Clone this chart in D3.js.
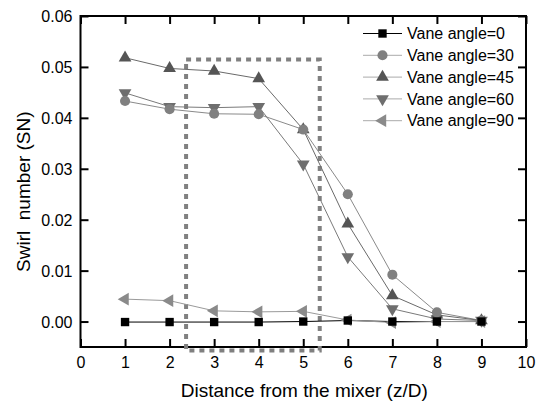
<!DOCTYPE html>
<html>
<head>
<meta charset="utf-8">
<script src="https://cdn.jsdelivr.net/npm/d3@7"></script>
<style>
  body { margin: 0; background: #fff; }
  text { font-family: "Liberation Sans", Arial, sans-serif; }
</style>
</head>
<body>
<div id="chart"></div>
<script>
const xs = [1, 2, 3, 4, 5, 6, 7, 8, 9];
const seriesNames = ['Vane angle=0', 'Vane angle=30', 'Vane angle=45', 'Vane angle=60', 'Vane angle=90'];
const angle0  = [-0.0001, -0.0001, -0.0001, -0.0001, 0.0, 0.0002, 0.0, 0.0, 0.0];
const angle30 = [0.0433, 0.0417, 0.0408, 0.0407, 0.0377, 0.0250, 0.0092, 0.0018, 0.0002];
const angle45 = [0.0518, 0.0497, 0.0492, 0.0477, 0.0377, 0.0192, 0.0051, 0.0013, 0.0002];
const angle60 = [0.0449, 0.0422, 0.0420, 0.0422, 0.0309, 0.0127, 0.0025, 0.0005, 0.0002];
const angle90 = [0.0044, 0.0041, 0.0021, 0.0019, 0.0020, 0.0003, -0.0002, 0.0, 0.0];
const xTicks = [0, 1, 2, 3, 4, 5, 6, 7, 8, 9, 10];
const yTicks = [0.00, 0.01, 0.02, 0.03, 0.04, 0.05, 0.06];
const box = { x0: 2.37, x1: 5.37, y0: -0.0057, y1: 0.05145 };

const width = 545, height = 404;
const margin = { top: 16, right: 19, bottom: 57, left: 80.5 };
const W = width - margin.left - margin.right;
const H = height - margin.top - margin.bottom;

const x = d3.scaleLinear().domain([0, 10]).range([0, W]);
const y = d3.scaleLinear().domain([-0.005, 0.06]).range([H, 0]);

const styles = [
  { data: angle0,  line: '#000',    fill: '#000',    sym: d3.symbolSquare, size: 70, rot: 0 },
  { data: angle30, line: '#8a8a8a', fill: '#808080', sym: d3.symbolCircle, size: 80, rot: 0 },
  { data: angle45, line: '#6a6a6a', fill: '#555',    sym: d3.symbolTriangle, size: 70, rot: 0 },
  { data: angle60, line: '#7a7a7a', fill: '#6e6e6e', sym: d3.symbolTriangle, size: 70, rot: 180 },
  { data: angle90, line: '#9a9a9a', fill: '#8a8a8a', sym: d3.symbolTriangle, size: 70, rot: -90 }
];

const svg = d3.select('#chart').append('svg')
  .attr('width', width).attr('height', height);
const g = svg.append('g').attr('transform', `translate(${margin.left},${margin.top})`);

// frame
g.append('rect').attr('width', W).attr('height', H)
  .attr('fill', 'none').attr('stroke', '#000').attr('stroke-width', 2);

// axes (ticks inside)
const fmtY = d3.format('.2f');
const ax = g.append('g').attr('transform', `translate(0,${H})`)
  .call(d3.axisBottom(x).tickValues(xTicks).tickSize(-8).tickPadding(10));
const axTop = g.append('g')
  .call(d3.axisTop(x).tickValues(xTicks).tickSize(-8).tickFormat(''));
const ay = g.append('g')
  .call(d3.axisLeft(y).tickValues(yTicks).tickSize(-8).tickPadding(8).tickFormat(fmtY));
const ayR = g.append('g').attr('transform', `translate(${W},0)`)
  .call(d3.axisRight(y).tickValues(yTicks).tickSize(-8).tickFormat(''));
[ax, axTop, ay, ayR].forEach(a => {
  a.select('.domain').remove();
  a.selectAll('line').attr('stroke', '#000').attr('stroke-width', 2);
  a.selectAll('text').attr('font-size', '16px').attr('fill', '#000')
    .style('font-family', '"Liberation Sans", Arial, sans-serif');
});
ay.selectAll('text').attr('dy', '0.35em');

// dashed region
g.append('rect')
  .attr('x', x(box.x0)).attr('y', y(box.y1))
  .attr('width', x(box.x1) - x(box.x0)).attr('height', y(box.y0) - y(box.y1))
  .attr('fill', 'none').attr('stroke', '#808080').attr('stroke-width', 4)
  .attr('stroke-dasharray', '5,5');

// series
const line = d3.line().x((d, i) => x(xs[i])).y(d => y(d));
styles.forEach(s => {
  g.append('path').attr('d', line(s.data))
    .attr('fill', 'none').attr('stroke', s.line).attr('stroke-width', 1);
});
styles.slice().reverse().forEach(s => {
  g.selectAll(null).data(s.data).join('path')
    .attr('d', d3.symbol().type(s.sym).size(s.size))
    .attr('transform', (d, i) => `translate(${x(xs[i])},${y(d)}) rotate(${s.rot})`)
    .attr('fill', s.fill);
});

// legend
const leg = g.append('g').attr('transform', `translate(${363 - margin.left},${33.5 - margin.top})`);
styles.forEach((s, i) => {
  const row = leg.append('g').attr('transform', `translate(0,${i * 21.8})`);
  row.append('line').attr('x1', 0).attr('x2', 39).attr('y1', 0).attr('y2', 0)
    .attr('stroke', i === 0 ? '#000' : '#aaa').attr('stroke-width', 1);
  row.append('path').attr('d', d3.symbol().type(s.sym).size(s.size))
    .attr('transform', `translate(19.5,0) rotate(${s.rot})`).attr('fill', s.fill);
  row.append('text').attr('x', 44).attr('y', 0).attr('dy', '0.35em')
    .attr('font-size', '16px').attr('fill', '#000').text(seriesNames[i]);
});

// axis titles
svg.append('text').attr('x', margin.left + W / 2 + 1).attr('y', 397)
  .attr('text-anchor', 'middle').attr('font-size', '19px').attr('fill', '#000')
  .text('Distance from the mixer (z/D)');
svg.append('text').attr('transform', `translate(30,${margin.top + y(0.0255)}) rotate(-90)`)
  .attr('text-anchor', 'middle').attr('font-size', '19px').attr('fill', '#000')
  .attr('xml:space', 'preserve').style('white-space', 'pre')
  .text('Swirl  number (SN)');
</script>
</body>
</html>
